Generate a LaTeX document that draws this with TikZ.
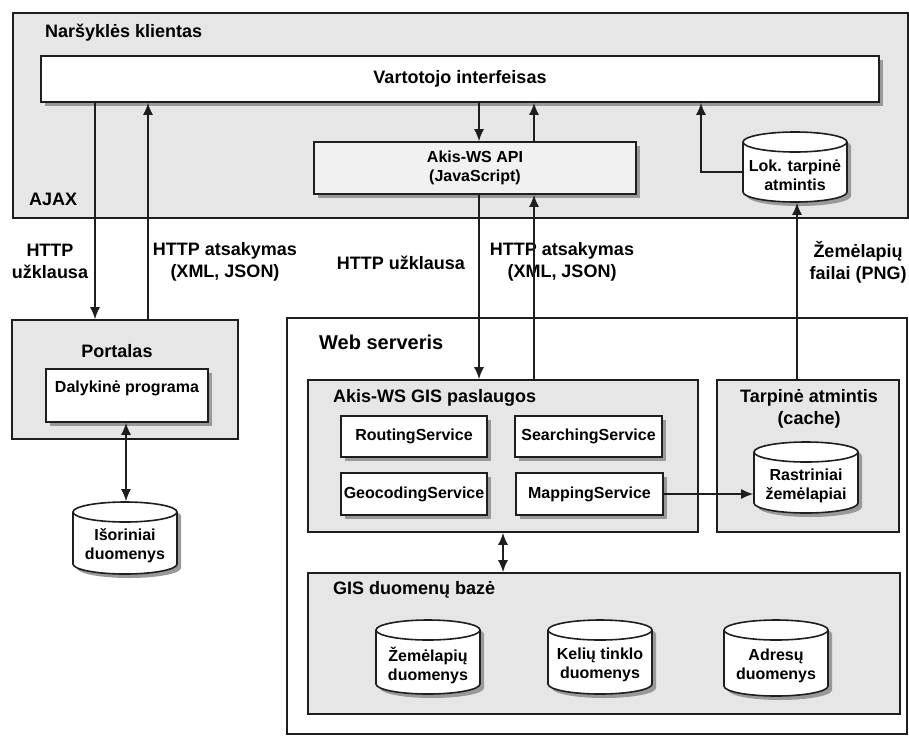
\documentclass[tikz,border=0pt]{standalone}
\usepackage{fontspec}
\setmainfont{Liberation Sans}
\usetikzlibrary{positioning}
\usetikzlibrary{shadows}
\usetikzlibrary{arrows.meta}

\definecolor{panel}{HTML}{E6E6E6}
\definecolor{apifill}{HTML}{F1F1F1}
\definecolor{edge}{HTML}{1E1E1E}

\begin{document}
\begin{tikzpicture}[x=1pt,y=-1pt,line width=1.6pt,
        big/.style={font=\bfseries\fontsize{18}{22}\selectfont},
        small/.style={font=\bfseries\fontsize{16}{19}\selectfont},
        panelbox/.style={rectangle,draw=edge,fill=panel,inner sep=0pt},
        itembox/.style={rectangle,draw=edge,fill=white,inner sep=0pt,small,
            drop shadow={shadow xshift=4pt,shadow yshift=-4pt,fill=black!40,opacity=1}},
        dbnode/.style={rectangle,inner sep=0pt,minimum width=104pt},
        dbtext/.style={small,align=center},
        cyl/.style={draw=edge,fill=white},
        cylshadow/.style={fill=black!40},
        arr/.style={draw=edge,line width=1.6pt,-{Latex[length=12pt,width=10pt]}},
        dbl/.style={draw=edge,line width=1.6pt,{Latex[length=12pt,width=10pt]}-{Latex[length=12pt,width=10pt]}}
        ]
        \useasboundingbox (0,0) rectangle (909,736);
        % narsykles klientas
        \node (browser) [panelbox,minimum width=895pt,minimum height=205pt] at (460.5,115.5) {};
        \node (brtitle) [big,anchor=west] at (41,33) {Naršyklės klientas};
        \node (ajax) [big,anchor=west] at (25,199) {AJAX};
        \node (ui) [itembox,big,minimum width=838pt,minimum height=46pt] at (460,79) {Vartotojo interfeisas};
        \node (api) [itembox,fill=apifill,align=center,minimum width=322pt,minimum height=52pt] at (475,168) {Akis-WS API\\(JavaScript)};
        % portalas
        \node (portal) [panelbox,minimum width=226pt,minimum height=119pt] at (125,379.5) {};
        \node (portaltitle) [big] at (117,351) {Portalas};
        \node (dalyk) [itembox,minimum width=162pt,minimum height=53pt] at (127,395.5) {};
        \node (dalyktext) [small] at (127,388) {Dalykinė programa};
        % web serveris
        \node (web) [rectangle,draw=edge,fill=white,inner sep=0pt,minimum width=620pt,minimum height=416pt] at (597,526) {};
        \node (webtitle) [font=\bfseries\fontsize{20}{24}\selectfont,anchor=west] at (315,342) {Web serveris};
        \node (gis) [panelbox,minimum width=390pt,minimum height=152pt] at (503,456) {};
        \node (gistitle) [big,anchor=west] at (329,398) {Akis-WS GIS paslaugos};
        \node (routing) [itembox,minimum width=146pt,minimum height=41pt] at (414,436.5) {RoutingService};
        \node (searching) [itembox,minimum width=147pt,minimum height=41pt] at (588.5,436.5) {SearchingService};
        \node (geocoding) [itembox,minimum width=146pt,minimum height=42pt] at (414,494) {GeocodingService};
        \node (mapping) [itembox,minimum width=147pt,minimum height=42pt] at (589.5,494) {MappingService};
        \node (cache) [panelbox,minimum width=182pt,minimum height=152pt] at (808,456) {};
        \node (cachetitle) [big,align=center] at (809,409) {Tarpinė atmintis\\(cache)};
        \node (gisdb) [panelbox,minimum width=592pt,minimum height=141pt] at (604,643.5) {};
        \node (gisdbtitle) [big,anchor=west] at (329,590) {GIS duomenų bazė};
        % duomenu cilindrai
        \foreach \cx/\cy/\ch in {795/167/70,125/538/72,806/477.5/71,428/657/74,600/657/74,776/658/76}{
            \fill[cylshadow] ({\cx-48},{\cy-\ch/2+14}) -- ({\cx-48},{\cy+\ch/2-6}) arc (180:360:52pt and 10pt)
                -- ({\cx+56},{\cy-\ch/2+14}) arc (0:180:52pt and 10pt) -- cycle;
            \draw[cyl] ({\cx-52},{\cy-\ch/2+10}) -- ({\cx-52},{\cy+\ch/2-10}) arc (180:360:52pt and 10pt)
                -- ({\cx+52},{\cy-\ch/2+10}) arc (0:180:52pt and 10pt) -- cycle;
            \draw[draw=edge] ({\cx-52},{\cy-\ch/2+10}) arc (180:360:52pt and 10pt);
        }
        \node (lok) [dbnode,minimum height=70pt] at (795,167) {};
        \node (lokt) [dbtext] at ([yshift=-8pt]lok.center) {Lok. tarpinė\\atmintis};
        \node (isor) [dbnode,minimum height=72pt] at (125,538) {};
        \node (isort) [dbtext] at ([yshift=-8pt]isor.center) {Išoriniai\\duomenys};
        \node (rastr) [dbnode,minimum height=71pt] at (806,477.5) {};
        \node (rastrt) [dbtext] at ([yshift=-8pt]rastr.center) {Rastriniai\\žemėlapiai};
        \node (zem) [dbnode,minimum height=74pt] at (428,657) {};
        \node (zemt) [dbtext] at ([yshift=-8pt]zem.center) {Žemėlapių\\duomenys};
        \node (keliu) [dbnode,minimum height=74pt] at (600,657) {};
        \node (keliut) [dbtext] at ([yshift=-8pt]keliu.center) {Kelių tinklo\\duomenys};
        \node (adr) [dbnode,minimum height=76pt] at (776,658) {};
        \node (adrt) [dbtext] at ([yshift=-8pt]adr.center) {Adresų\\duomenys};
        % uzklausos ir atsakymai
        \node (q1) [big,align=center] at (50,261) {HTTP\\užklausa};
        \node (a1) [big,align=center] at (225,262) {HTTP atsakymas\\(XML, JSON)};
        \node (q2) [big] at (401,263) {HTTP užklausa};
        \node (a2) [big,align=center] at (562,262) {HTTP atsakymas\\(XML, JSON)};
        \node (png) [big,align=center] at (858,262) {Žemėlapių\\failai (PNG)};
        \coordinate (x1) at (95,0);
        \coordinate (x2) at (148,0);
        \coordinate (x3) at (479,0);
        \coordinate (x4) at (534,0);
        \coordinate (x5) at (701,0);
        \coordinate (x6) at (797,0);
        \coordinate (x7) at (126,0);
        \coordinate (x8) at (503,0);
        \coordinate (y1) at (0,172);
        \draw[arr] (y1 -| lok.west) -| (x5 |- ui.south);
        \draw[arr] (x1 |- ui.south) -- (x1 |- portal.north);
        \draw[arr] (x2 |- portal.north) -- (x2 |- ui.south);
        \draw[arr] (x3 |- ui.south) -- (x3 |- api.north);
        \draw[arr] (x4 |- api.north) -- (x4 |- ui.south);
        \draw[arr] (x3 |- api.south) -- (x3 |- gis.north);
        \draw[arr] (x4 |- gis.north) -- (x4 |- api.south);
        \draw[arr] (x6 |- cache.north) -- (x6 |- lok.south);
        \draw[dbl] (x7 |- dalyk.south) -- (x7 |- isor.north);
        \draw[arr] (mapping.east) -- (mapping.east -| rastr.west);
        \draw[dbl] (x8 |- gis.south) -- (x8 |- gisdb.north);
\end{tikzpicture}
\end{document}
